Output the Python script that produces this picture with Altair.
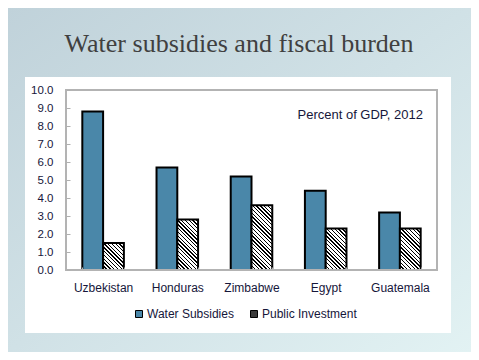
import altair as alt
import pandas as pd

# ---- data ----
countries = ["Uzbekistan", "Honduras", "Zimbabwe", "Egypt", "Guatemala"]
water_subsidies = [8.8, 5.7, 5.2, 4.4, 3.2]
public_investment = [1.5, 2.8, 3.6, 2.3, 2.3]
series_names = ["Water Subsidies", "Public Investment"]
y_ticks = [0, 1, 2, 3, 4, 5, 6, 7, 8, 9, 10]
title_text = "Water subsidies and fiscal burden"
note_text = "Percent of GDP, 2012"

# ---- layout / style constants ----
W, H = 371, 180
Y_MAX = 10
PAD_INNER, PAD_OUTER = 0.44, 0.22
BLUE = "#4a87a9"
TEXT = "#16163a"
SANS = "Liberation Sans"
SERIF = "Liberation Serif"

rows = []
for c, w_, p_ in zip(countries, water_subsidies, public_investment):
    rows.append({"country": c, "series": series_names[0], "value": w_})
    rows.append({"country": c, "series": series_names[1], "value": p_})
df = pd.DataFrame(rows)

step = W / (len(countries) - PAD_INNER + 2 * PAD_OUTER)
bar_w = step * (1 - PAD_INNER) / 2
px_per_unit = H / Y_MAX


def hatch(value, w, period=3.8, lw=1.4):
    """Diagonal (\\) hatch made of hard-stop linear gradient stripes."""
    h = value * px_per_unit
    L = w + h
    s = L / (w * w + h * h)
    stops = [{"offset": 0, "color": "white"}]
    k = 0
    while True:
        a = k * period / L
        b = (k * period + lw) / L
        if a >= 1:
            break
        b = min(b, 1)
        stops += [
            {"offset": a, "color": "white"},
            {"offset": a, "color": "black"},
            {"offset": b, "color": "black"},
            {"offset": b, "color": "white"},
        ]
        k += 1
    return {"gradient": "linear", "x1": 0, "y1": 1, "x2": s * w, "y2": 1 - s * h, "stops": stops}


x_enc = alt.X(
    "country:N",
    sort=countries,
    scale=alt.Scale(domain=countries, paddingInner=PAD_INNER, paddingOuter=PAD_OUTER),
    title=None,
    axis=alt.Axis(
        labelAngle=0, labelFont=SANS, labelFontSize=12, labelColor=TEXT,
        domain=False, grid=False, tickBand="extent", tickSize=3, offset=-3,
        tickColor="#b0b0b0", labelPadding=12, zindex=1,
    ),
)
y_enc = alt.Y(
    "value:Q",
    scale=alt.Scale(domain=[0, Y_MAX], nice=False),
    title=None,
    axis=alt.Axis(
        values=y_ticks, format=".1f", labelFont=SANS, labelFontSize=11.5,
        labelColor=TEXT, domain=False, grid=False, tickSize=4, offset=-4,
        tickColor="#b0b0b0", labelPadding=13, zindex=1,
    ),
)
xoff_enc = alt.XOffset(
    "series:N", sort=series_names,
    scale=alt.Scale(domain=series_names, paddingInner=0, paddingOuter=0),
)

one = pd.DataFrame({"label": [title_text]})

background = alt.Chart(one).mark_rect(
    fill={"gradient": "linear", "x1": 0, "y1": 0, "x2": 1, "y2": 1,
          "stops": [{"offset": 0, "color": "#c0d2da"},
                    {"offset": 0.5, "color": "#d0e1e6"},
                    {"offset": 1, "color": "#e2f2f3"}]}
).encode(x=alt.value(-58), x2=alt.value(W + 34), y=alt.value(-82), y2=alt.value(H + 82))

panel = alt.Chart(one).mark_rect(fill="white").encode(
    x=alt.value(-41), x2=alt.value(385), y=alt.value(-13), y2=alt.value(243)
)

title = alt.Chart(one).mark_text(
    font=SERIF, fontSize=26, color="#404040", align="center", baseline="alphabetic"
).encode(x=alt.value(173), y=alt.value(-38), text="label:N")

water = alt.Chart(df).transform_filter(
    alt.datum.series == series_names[0]
).mark_bar(stroke="black", strokeWidth=2).encode(
    x=x_enc, y=y_enc, xOffset=xoff_enc,
    color=alt.Color(
        "series:N",
        scale=alt.Scale(domain=series_names, range=[BLUE, "#3a3a3a"]),
        legend=alt.Legend(
            title=None, orient="none", direction="horizontal",
            legendX=67, legendY=218, symbolType="square", symbolSize=49,
            symbolStrokeColor="black", symbolStrokeWidth=1,
            labelFont=SANS, labelFontSize=12, labelColor=TEXT,
            labelOffset=2, columnPadding=14,
        ),
    ),
)

hatched_layers = []
for c, p_ in zip(countries, public_investment):
    hatched_layers.append(
        alt.Chart(df).transform_filter(
            (alt.datum.series == series_names[1]) & (alt.datum.country == c)
        ).mark_bar(stroke="black", strokeWidth=2, fill=hatch(p_, bar_w)).encode(
            x=x_enc, y=y_enc, xOffset=xoff_enc,
        )
    )

note = alt.Chart(pd.DataFrame({"label": [note_text]})).mark_text(
    font=SANS, fontSize=13, color=TEXT, align="right", baseline="middle"
).encode(x=alt.value(357), y=alt.value(25), text="label:N")

frame = alt.Chart(one).mark_rect(
    fill="white", fillOpacity=0, stroke="#b3b3b3", strokeWidth=2
).encode(x=alt.value(0), x2=alt.value(W), y=alt.value(0), y2=alt.value(H))

chart = alt.layer(
    background, panel, title, water, *hatched_layers, note, frame
).properties(
    width=W, height=H,
    padding={"left": 58, "top": 82, "right": 34, "bottom": 82},
    autosize=alt.AutoSizeParams(type="none"),
    background="#cddde3",
).configure_view(stroke="transparent")

chart.save("out.html", embed_options={"renderer": "svg", "actions": False})
